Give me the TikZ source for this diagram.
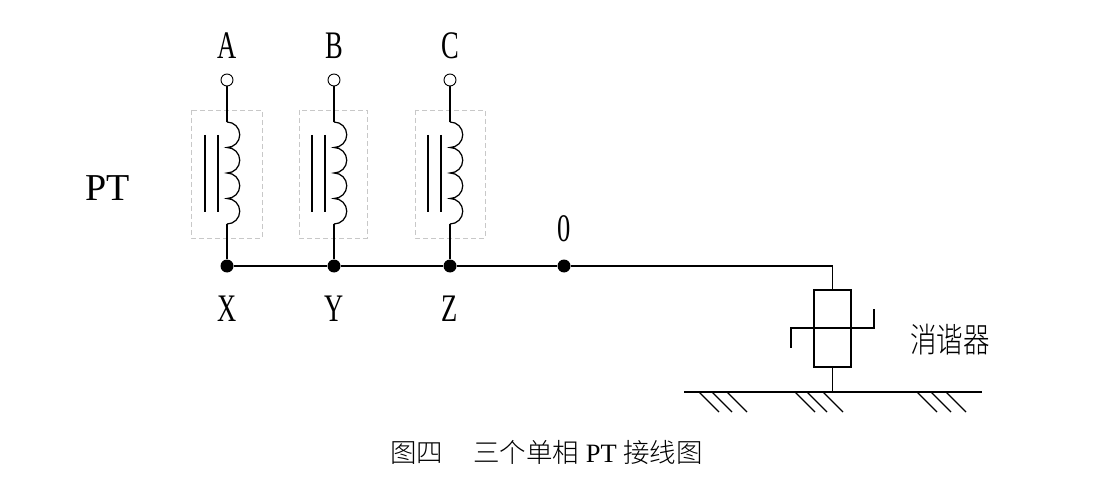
\documentclass[tikz,border=0pt]{standalone}
\usepackage{fontspec}
\setmainfont{Liberation Serif}
\newfontfamily\latinfont[FakeStretch=0.68]{Liberation Serif}
\newfontfamily\cjk{Noto Sans CJK SC Light}
\newfontfamily\cjknarrow[FakeStretch=0.78]{Noto Sans CJK SC Light}
\definecolor{boxGray}{HTML}{C8C8C8}

\tikzset{
    wire/.style={black, line width=1.25pt},
    core/.style={black, line width=1.25pt},
    term/.style={circle, draw=black, fill=white, line width=0.9pt, minimum size=12pt, inner sep=0pt},
    junc/.style={circle, fill=black, minimum size=13pt, inner sep=0pt},
    letter/.style={font=\fontsize{39}{39}\selectfont\latinfont, inner sep=0pt},
    ptbox/.style={draw=boxGray, line width=0.8pt, dash pattern=on 5pt off 3pt}
}

\begin{document}
\begin{tikzpicture}[x=1pt, y=-1pt]
    \useasboundingbox (0,0) rectangle (1100,497);

    % three PT windings
    \foreach \px/\top/\bot/\bl/\br in {227/A/X/191/262, 334/B/Y/299/367, 450/C/Z/415/485} {
        \draw[ptbox] (\bl,110) rectangle (\br,238);
        \node[letter] (lab\top) at (\px,46) {\top};
        \node[term] (term\top) at (\px,80) {};
        \node[junc] (junc\bot) at (\px,266) {};
        \node[letter] (lab\bot) at (\px,309) {\bot};
        \coordinate (coil\top) at (\px,122);
        \coordinate (coil\bot) at (\px,224);
        \draw[wire] (term\top) -- (coil\top);
        \draw[wire] (coil\top) arc (-90:90:12.75) arc (-90:90:12.75) arc (-90:90:12.75) arc (-90:90:12.75);
        \draw[wire] (coil\bot) -- (junc\bot);
        \draw[core] (\px-22,135) -- (\px-22,212);
        \draw[core] (\px-9,135) -- (\px-9,212);
    }

    % neutral point and arrester
    \node[junc] (juncO) at (564,266) {};
    \node[letter] (labO) at (564,229) {0};
    \node[draw=black, line width=1.25pt, minimum width=37pt, minimum height=77pt, inner sep=0pt] (xiaoxie) at (832.5,328.5) {};
    \coordinate (corner) at (832.5,266);
    \draw[wire] (juncX) -- (juncY) -- (juncZ) -- (juncO) -- (corner) -- (xiaoxie.north);

    \draw[wire] (874,309) -- (874,328) -- (791,328) -- (791,348);

    % ground
    \coordinate (gndL) at (684,392);
    \coordinate (gndR) at (982,392);
    \coordinate (gndT) at (832.5,392);
    \draw[wire] (xiaoxie.south) -- (gndT);
    \draw[wire] (gndL) -- (gndR);
    \foreach \hx in {699,712,727,795,807,823,917,931,946} {
        \draw[wire] (\hx,392) -- ++(20,20);
    }

    \node[font=\fontsize{38}{38}\selectfont, inner sep=0pt] (labPT) at (108,188) {PT};
    \node[font=\fontsize{34}{34}\selectfont\cjknarrow, inner sep=0pt] (labXX) at (950,340) {消谐器};
    \node[font=\fontsize{26.5}{26.5}\selectfont, inner sep=0pt, anchor=west] (caption) at (390,452) {{\cjk 图四\hspace{30pt}三个单相} PT {\cjk 接线图}};
\end{tikzpicture}
\end{document}
